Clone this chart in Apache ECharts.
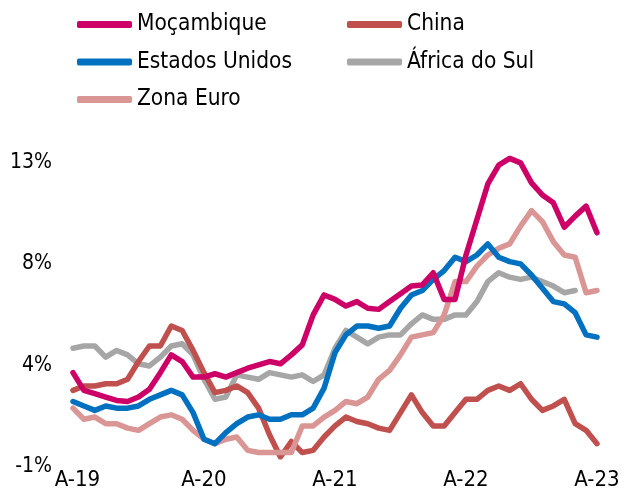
<!DOCTYPE html>
<html>
<head>
<meta charset="utf-8">
<script src="https://cdn.jsdelivr.net/npm/echarts@6/dist/echarts.min.js"></script>
<style>
html,body{margin:0;padding:0;background:#fff;}
#chart{width:635px;height:491px;}
</style>
</head>
<body>
<div id="chart"></div>
<script>
// Monthly categories, April 2019 - April 2023
var categories = [
  'A-19','M-19','J-19','J-19','A-19','S-19','O-19','N-19','D-19',
  'J-20','F-20','M-20','A-20','M-20','J-20','J-20','A-20','S-20','O-20','N-20','D-20',
  'J-21','F-21','M-21','A-21','M-21','J-21','J-21','A-21','S-21','O-21','N-21','D-21',
  'J-22','F-22','M-22','A-22','M-22','J-22','J-22','A-22','S-22','O-22','N-22','D-22',
  'J-23','F-23','M-23','A-23'
];
var yTickLabels = ['-1%', '4%', '8%', '13%'];

var mocambique = [3.3,2.5,2.35,2.2,2.05,2.0,2.2,2.55,3.3,
  4.1,3.8,3.1,3.1,3.25,3.1,3.3,3.5,3.65,3.8,3.7,4.1,
  4.55,5.9,6.8,6.6,6.3,6.5,6.2,6.15,6.5,6.85,7.2,7.25,
  7.8,6.6,6.6,8.6,10.2,11.8,12.65,12.95,12.75,11.85,11.3,10.95,
  9.85,10.35,10.8,9.6];
var china = [2.5,2.7,2.7,2.8,2.8,3.0,3.8,4.5,4.5,
  5.4,5.2,4.3,3.3,2.4,2.5,2.7,2.4,1.7,0.5,-0.5,0.2,
  -0.3,-0.2,0.4,0.9,1.3,1.1,1.0,0.8,0.7,1.5,2.3,1.5,
  0.9,0.9,1.5,2.1,2.1,2.5,2.7,2.5,2.8,2.1,1.6,1.8,
  2.1,1.0,0.7,0.1];
var estadosUnidos = [2.0,1.8,1.6,1.8,1.7,1.7,1.8,2.1,2.3,
  2.5,2.3,1.5,0.3,0.1,0.6,1.0,1.3,1.4,1.2,1.2,1.4,
  1.4,1.7,2.6,4.2,5.0,5.4,5.4,5.3,5.4,6.2,6.8,7.0,
  7.5,7.9,8.5,8.3,8.6,9.1,8.5,8.3,8.2,7.7,7.1,6.5,
  6.4,6.0,5.0,4.9];
var africaDoSul = [4.4,4.5,4.5,4.0,4.3,4.1,3.7,3.6,4.0,
  4.5,4.6,4.1,3.0,2.1,2.2,3.2,3.1,3.0,3.3,3.2,3.1,
  3.2,2.9,3.2,4.4,5.2,4.9,4.6,4.9,5.0,5.0,5.5,5.9,
  5.7,5.7,5.9,5.9,6.5,7.4,7.8,7.6,7.5,7.6,7.4,7.2,
  6.9,7.0,null,null];
var zonaEuro = [1.7,1.2,1.3,1.0,1.0,0.8,0.7,1.0,1.3,
  1.4,1.2,0.7,0.3,0.1,0.3,0.4,-0.2,-0.3,-0.3,-0.3,-0.3,
  0.9,0.9,1.3,1.6,2.0,1.9,2.2,3.0,3.4,4.1,4.9,5.0,
  5.1,5.9,7.4,7.4,8.1,8.6,8.9,9.1,9.9,10.6,10.1,9.2,
  8.6,8.5,6.9,7.0];

var FONT = "'DejaVu Sans Condensed', 'DejaVu Sans', sans-serif";
var LW = 5.5;

function line(name, data, color, z) {
  return {
    name: name, type: 'line', data: data, xAxisIndex: 0, yAxisIndex: 0,
    showSymbol: false, symbol: 'none', z: z,
    lineStyle: { color: color, width: LW, join: 'round', cap: 'round' },
    itemStyle: { color: color },
    connectNulls: false, animation: false
  };
}

var chart = echarts.init(document.getElementById('chart'), null, { renderer: 'canvas' });
var legendText = { fontFamily: FONT, fontSize: 22.5, color: '#000', lineHeight: 22 };
var hidden = { show: false };
chart.setOption({
  animation: false,
  backgroundColor: '#fff',
  textStyle: { fontFamily: FONT },
  legend: [
    { data: ['Moçambique', 'Estados Unidos', 'Zona Euro'], orient: 'vertical',
      left: 72, top: 8, itemWidth: 55, itemHeight: 7, itemGap: 14.5, icon: 'roundRect',
      textStyle: legendText, selectedMode: false },
    { data: ['China', 'África do Sul'], orient: 'vertical',
      left: 342, top: 8, itemWidth: 55, itemHeight: 7, itemGap: 14.5, icon: 'roundRect',
      textStyle: legendText, selectedMode: false }
  ],
  grid: [
    { left: 73, right: 38, top: 157.3, bottom: 29.2, containLabel: false },
    { left: 73, right: 38, top: 162.5, bottom: 24, containLabel: false }
  ],
  xAxis: [
    { type: 'category', data: categories, boundaryGap: false, gridIndex: 0,
      axisLine: hidden, axisTick: hidden, splitLine: hidden,
      axisLabel: {
        interval: 11, margin: 12, fontFamily: FONT, fontSize: 22, color: '#000',
        formatter: function (v, i) { return i === 0 ? '{f|' + v + '}' : v; },
        rich: { f: { fontFamily: FONT, fontSize: 22, color: '#000', padding: [0, 0, 0, 9] } }
      } },
    { type: 'value', gridIndex: 1, show: false }
  ],
  yAxis: [
    { type: 'value', min: -0.5, max: 13, gridIndex: 0, splitLine: hidden,
      axisLine: hidden, axisTick: hidden, axisLabel: hidden },
    { type: 'category', data: yTickLabels, boundaryGap: false, gridIndex: 1, position: 'left',
      axisLine: hidden, axisTick: hidden, splitLine: hidden,
      axisLabel: { margin: 21, fontFamily: FONT, fontSize: 21, color: '#000' } }
  ],
  series: [
    line('África do Sul', africaDoSul, '#A6A6A6', 2),
    line('China', china, '#C0504D', 3),
    line('Zona Euro', zonaEuro, '#DA9694', 4),
    line('Estados Unidos', estadosUnidos, '#0070C0', 5),
    line('Moçambique', mocambique, '#CC0066', 6)
  ]
});
</script>
</body>
</html>
